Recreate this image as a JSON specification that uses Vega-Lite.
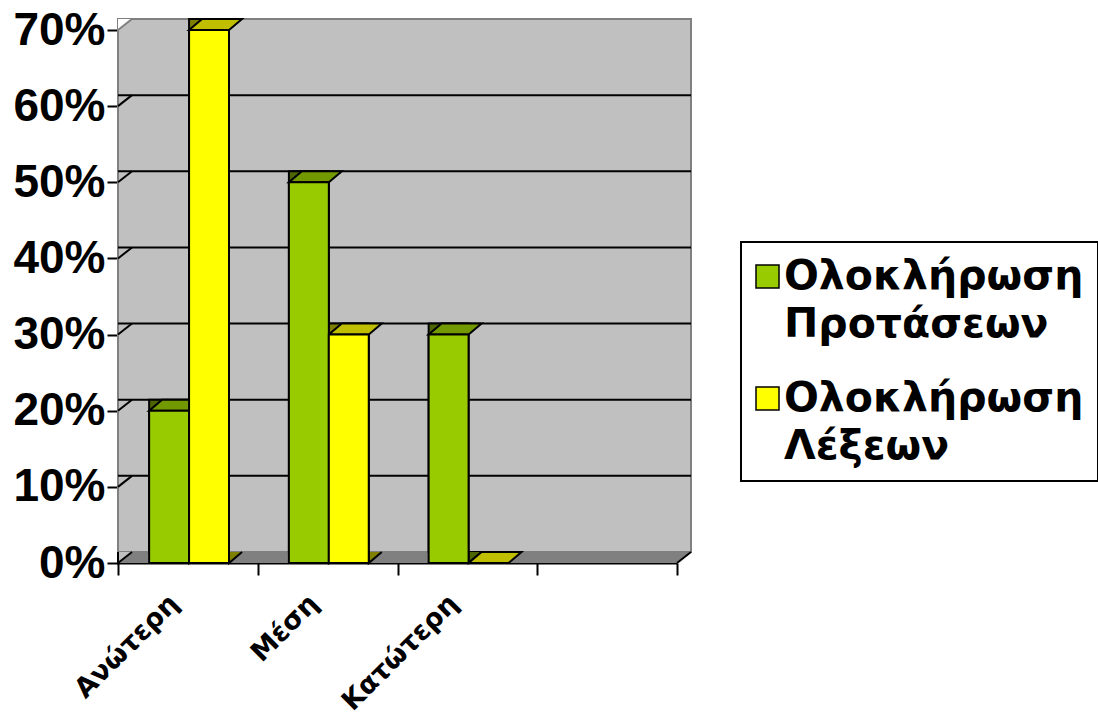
{
"$schema":"https://vega.github.io/schema/vega-lite/v6.json",
"width":559,"height":533,"autosize":"none",
"padding":{"left":118,"top":30,"right":421,"bottom":153},
"background":"white",
"config":{"view":{"stroke":null},
  "axis":{"domainColor":"black","domainWidth":2,"tickColor":"black","tickWidth":2,"labelColor":"black","zindex":1,"grid":false,"labelOverlap":false},
  "axisX":{"tickBand":"extent","tickSize":12,"labelAngle":-45,"labelAlign":"right","labelBaseline":"middle","labelPadding":24,"labelOffset":-14,"labelFont":"DejaVu Sans","labelFontWeight":"bold","labelFontSize":27},
  "axisY":{"tickSize":11,"labelPadding":2,"labelFont":"Liberation Sans","labelFontWeight":"bold","labelFontSize":46}},
"datasets":{
 "bars":[
  {"cat":"Ανώτερη","series":"Ολοκλήρωση Προτάσεων","value":0.2},
  {"cat":"Ανώτερη","series":"Ολοκλήρωση Λέξεων","value":0.7},
  {"cat":"Μέση","series":"Ολοκλήρωση Προτάσεων","value":0.5},
  {"cat":"Μέση","series":"Ολοκλήρωση Λέξεων","value":0.3},
  {"cat":"Κατώτερη","series":"Ολοκλήρωση Προτάσεων","value":0.3},
  {"cat":"Κατώτερη","series":"Ολοκλήρωση Λέξεων","value":0}
 ],
 "grid":[{"v":0.1},{"v":0.2},{"v":0.3},{"v":0.4},{"v":0.5},{"v":0.6}]
},
"layer":[
 {"data":{"values":[{}]},
  "mark":{"type":"rect","fill":"#C0C0C0","yOffset":-11,"xOffset":14},
  "encoding":{"y":{"datum":0.7,"type":"quantitative","title":null},"y2":{"datum":0}}},
 {"data":{"values":[{}]},
  "mark":{"type":"rect","fill":"transparent","stroke":"#808080","strokeWidth":2,"xOffset":14,"x2Offset":14,"yOffset":-11,"y2Offset":-11},
  "encoding":{"y":{"datum":0.7,"type":"quantitative","title":null},"y2":{"datum":0}}},
 {"data":{"values":[{}]},
  "mark":{"type":"rect","fill":"#808080","yOffset":-11,"xOffset":14},
  "encoding":{"y":{"datum":0,"type":"quantitative","title":null},"y2":{"datum":0}}},
 {"data":{"name":"grid"},
  "mark":{"type":"rule","stroke":"black","strokeWidth":2,"xOffset":14,"x2Offset":14,"yOffset":-11},
  "encoding":{"y":{"field":"v","type":"quantitative","title":null}}},
 {"data":{"name":"grid"},
  "mark":{"type":"point","shape":"M0,0 L14,-11","size":4,"filled":false,"stroke":"black","strokeWidth":2,"opacity":1},
  "encoding":{"x":{"datum":"Ανώτερη","type":"nominal","bandPosition":0,"title":null},"y":{"field":"v","type":"quantitative","title":null}}},
 {"data":{"values":[{}]},
  "mark":{"type":"point","shape":"M0,0 L0,-11 L14,-11 Z","size":4,"filled":true,"fill":"white","strokeWidth":0,"opacity":1},
  "encoding":{"x":{"datum":"Ανώτερη","type":"nominal","bandPosition":0,"title":null},"y":{"datum":0.7,"type":"quantitative","title":null}}},
 {"data":{"values":[{}]},
  "mark":{"type":"point","shape":"M0,0 L14,-11","size":4,"filled":false,"stroke":"#808080","strokeWidth":2,"opacity":1},
  "encoding":{"x":{"datum":"Ανώτερη","type":"nominal","bandPosition":0,"title":null},"y":{"datum":0.7,"type":"quantitative","title":null}}},
 {"data":{"values":[{}]},
  "mark":{"type":"point","shape":"M14,-11 L0,0 L0,-11","size":4,"filled":true,"fill":"#C0C0C0","stroke":"black","strokeWidth":2,"opacity":1},
  "encoding":{"x":{"datum":"Ανώτερη","type":"nominal","bandPosition":0,"title":null},"y":{"datum":0,"type":"quantitative","title":null}}},
 {"data":{"values":[{}]},
  "mark":{"type":"point","shape":"M0,0 L14,-11 L14,0 Z","size":4,"filled":true,"fill":"white","strokeWidth":0,"opacity":1},
  "encoding":{"x":{"datum":" ","type":"nominal","bandPosition":1,"title":null},"y":{"datum":0,"type":"quantitative","title":null}}},
 {"data":{"values":[{}]},
  "mark":{"type":"point","shape":"M0,0 L14,-11","size":4,"filled":false,"stroke":"black","strokeWidth":2,"opacity":1},
  "encoding":{"x":{"datum":" ","type":"nominal","bandPosition":1,"title":null},"y":{"datum":0,"type":"quantitative","title":null}}},
 {"data":{"name":"bars"},
  "mark":{"type":"bar","xOffset":13,"yOffset":-11,"y2Offset":-11,"stroke":"black","strokeWidth":2},
  "encoding":{
   "x":{"field":"cat","type":"nominal","title":null,"scale":{"domain":["Ανώτερη","Μέση","Κατώτερη"," "],"paddingInner":0,"paddingOuter":0}},
   "xOffset":{"field":"series","type":"nominal","scale":{"domain":["Ολοκλήρωση Προτάσεων","Ολοκλήρωση Λέξεων"],"paddingInner":0,"paddingOuter":0.75,"align":0.52}},
   "y":{"field":"value","type":"quantitative","title":null},
   "fill":{"condition":{"test":"datum.series === 'Ολοκλήρωση Προτάσεων'","value":"#4D6600"},"value":"#808000"}}},
 {"data":{"name":"bars"},
  "transform":[{"filter":"datum.value > 0"}],
  "mark":{"type":"point","shape":"M33,-11 L20,0 L20,-11","size":4,"filled":true,"stroke":"black","strokeWidth":2,"opacity":1},
  "encoding":{
   "x":{"field":"cat","type":"nominal","title":null,"scale":{"domain":["Ανώτερη","Μέση","Κατώτερη"," "],"paddingInner":0,"paddingOuter":0}},
   "xOffset":{"field":"series","type":"nominal","scale":{"domain":["Ολοκλήρωση Προτάσεων","Ολοκλήρωση Λέξεων"],"paddingInner":0,"paddingOuter":0.75,"align":0.52}},
   "y":{"datum":0,"type":"quantitative","title":null},
   "fill":{"condition":{"test":"datum.series === 'Ολοκλήρωση Προτάσεων'","value":"#4D6600"},"value":"#808000"}}},
 {"data":{"name":"bars"},
  "mark":{"type":"point","shape":"M-20,0 L20,0 L33,-11 L-7,-11 Z","size":4,"filled":true,"stroke":"black","strokeWidth":2,"opacity":1},
  "encoding":{
   "x":{"field":"cat","type":"nominal","title":null,"scale":{"domain":["Ανώτερη","Μέση","Κατώτερη"," "],"paddingInner":0,"paddingOuter":0}},
   "xOffset":{"field":"series","type":"nominal","scale":{"domain":["Ολοκλήρωση Προτάσεων","Ολοκλήρωση Λέξεων"],"paddingInner":0,"paddingOuter":0.75,"align":0.52}},
   "y":{"field":"value","type":"quantitative","title":null},
   "fill":{"condition":{"test":"datum.series === 'Ολοκλήρωση Προτάσεων'","value":"#739900"},"value":"#BFBF00"}}},
 {"data":{"name":"bars"},
  "mark":{"type":"bar","stroke":"black","strokeWidth":2},
  "encoding":{
   "x":{"field":"cat","type":"nominal","title":null,"scale":{"domain":["Ανώτερη","Μέση","Κατώτερη"," "],"paddingInner":0,"paddingOuter":0},
        "axis":{"title":null}},
   "xOffset":{"field":"series","type":"nominal","scale":{"domain":["Ολοκλήρωση Προτάσεων","Ολοκλήρωση Λέξεων"],"paddingInner":0,"paddingOuter":0.75,"align":0.52}},
   "y":{"field":"value","type":"quantitative","title":null,"scale":{"domain":[0,0.7],"nice":false},
        "axis":{"values":[0,0.1,0.2,0.3,0.4,0.5,0.6,0.7],"format":".0%","title":null}},
   "fill":{"field":"series","type":"nominal","scale":{"domain":["Ολοκλήρωση Προτάσεων","Ολοκλήρωση Λέξεων"],"range":["#99CC00","#FFFF00"]},
        "legend":{"orient":"none","legendX":623,"legendY":212,"title":null,"strokeColor":"black","fillColor":"white","padding":14,
                  "symbolType":"square","symbolSize":529,"symbolStrokeColor":"black","symbolStrokeWidth":1.5,"symbolOffset":-8,
                  "labelFont":"DejaVu Sans","labelFontWeight":"bold","labelFontSize":41,"labelColor":"black","labelLimit":600,"labelOffset":-4,"rowPadding":32,
                  "labelExpr":"split(datum.label, ' ')",
                  "encode":{"legend":{"update":{"strokeWidth":{"value":2}}},"labels":{"update":{"lineHeight":{"value":48}}}}}}}}
]
}
